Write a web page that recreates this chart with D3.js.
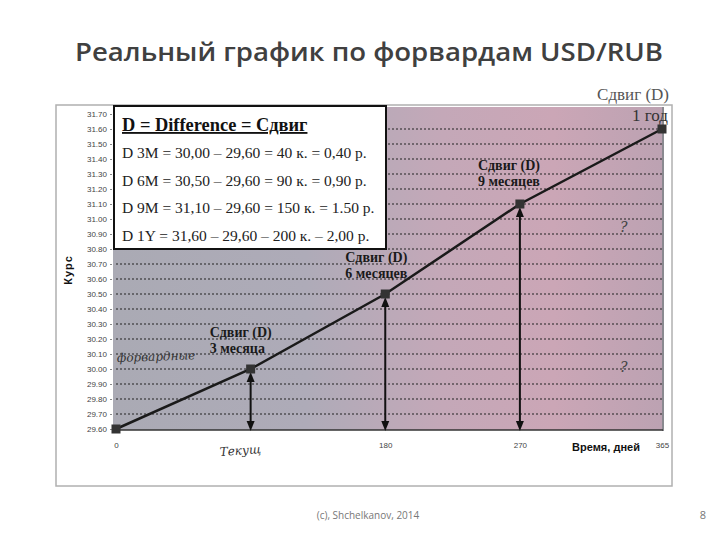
<!DOCTYPE html>
<html><head><meta charset="utf-8">
<script src="https://cdn.jsdelivr.net/npm/d3@7"></script>
<style>body{margin:0;background:#fff}svg{display:block}</style>
</head><body>
<script>
// ---- data ----
const days = [0, 90, 180, 270, 365];
const rates = [29.60, 30.00, 30.50, 31.10, 31.60];
const yTickValues = [29.6,29.7,29.8,29.9,30.0,30.1,30.2,30.3,30.4,30.5,30.6,30.7,30.8,30.9,31.0,31.1,31.2,31.3,31.4,31.5,31.6,31.7];
const xTickValues = [0, 180, 270, 365];
const arrowDays = [90, 180, 270];
const legendTitle = "D = Difference = Сдвиг";
const legendLines = [
  "D 3M = 30,00 – 29,60 = 40 к. = 0,40 р.",
  "D 6M = 30,50 – 29,60 = 90 к. = 0,90 р.",
  "D 9M = 31,10 – 29,60 = 150 к. = 1.50 р.",
  "D 1Y = 31,60 – 29,60 – 200 к. – 2,00 р."
];
const annoLabels = [
  {day: 90, rate: 30.00, l1: "Сдвиг (D)", l2: "3 месяца"},
  {day: 180, rate: 30.50, l1: "Сдвиг (D)", l2: "6 месяцев"},
  {day: 270, rate: 31.10, l1: "Сдвиг (D)", l2: "9 месяцев"}
];

const W = 720, H = 540;
const svg = d3.select("body").append("svg").attr("width", W).attr("height", H);

const x = d3.scaleLinear().domain([0, 365]).range([116, 662]);
const y = d3.scaleLinear().domain([29.6, 31.7]).range([429, 114]);

// title
svg.append("text").attr("x", 369).attr("y", 61).attr("text-anchor", "middle")
  .attr("font-family", "Open Sans, sans-serif").attr("font-weight", 600)
  .attr("font-size", 25).attr("fill", "#404040")
  .attr("textLength", 588).attr("lengthAdjust", "spacingAndGlyphs")
  .text("Реальный график по форвардам USD/RUB");

// picture frame
svg.append("rect").attr("x", 56).attr("y", 105).attr("width", 616).attr("height", 381)
  .attr("fill", "#fff").attr("stroke", "#b0b0b0").attr("stroke-width", 1.5);

// gradient background
const defs = svg.append("defs");
const grad = defs.append("linearGradient").attr("id", "bg").attr("x1", "0").attr("x2", "1").attr("y1", "0").attr("y2", "0");
[[0, "#aaaab4"], [0.35, "#aeabb8"], [0.6, "#c4a8b8"], [0.8, "#cba6b6"], [1, "#bca2b2"]]
  .forEach(([o, c]) => grad.append("stop").attr("offset", o).attr("stop-color", c));
svg.append("rect").attr("x", 113).attr("y", 107).attr("width", 550).attr("height", 323)
  .attr("fill", "url(#bg)");
svg.append("line").attr("x1", 663).attr("x2", 663).attr("y1", 107).attr("y2", 431)
  .attr("stroke", "#8a8a90").attr("stroke-width", 2);

// grid lines (29.70 .. 31.60)
svg.append("g").selectAll("line").data(yTickValues.slice(1, -1)).join("line")
  .attr("x1", 116).attr("x2", 662)
  .attr("y1", d => y(d)).attr("y2", d => y(d))
  .attr("stroke", "#222").attr("stroke-width", 1).attr("stroke-dasharray", "2,2");

// y axis
const yAxis = svg.append("g").attr("transform", "translate(112,0)")
  .call(d3.axisLeft(y).tickValues(yTickValues).tickFormat(d3.format(".2f")).tickSize(2));
yAxis.select(".domain").remove();
yAxis.selectAll("line").attr("stroke", "#888");
yAxis.selectAll("text").attr("font-family", "Liberation Sans, Arial, sans-serif")
  .attr("font-size", 8).attr("fill", "#444");

// x axis
svg.append("line").attr("x1", 113).attr("x2", 663).attr("y1", 430).attr("y2", 430)
  .attr("stroke", "#333").attr("stroke-width", 1.5);
const xAxis = svg.append("g").attr("transform", "translate(0,430)")
  .call(d3.axisBottom(x).tickValues(xTickValues).tickFormat(d3.format("d")).tickSize(0).tickPadding(12));
xAxis.select(".domain").remove();
xAxis.selectAll("text").attr("font-family", "Liberation Sans, Arial, sans-serif")
  .attr("font-size", 8).attr("fill", "#444");

svg.append("text").attr("x", 606).attr("y", 451).attr("text-anchor", "middle")
  .attr("font-family", "Liberation Sans, Arial, sans-serif").attr("font-weight", "bold")
  .attr("font-size", 11).attr("fill", "#111").text("Время, дней");
svg.append("text").attr("transform", "translate(72,270) rotate(-90)").attr("text-anchor", "middle")
  .attr("font-family", "Liberation Sans, Arial, sans-serif").attr("font-weight", "bold")
  .attr("font-size", 11).attr("fill", "#111").attr("letter-spacing", 1).text("Курс");

// arrows
defs.append("marker").attr("id", "ah").attr("viewBox", "0 0 10 10")
  .attr("refX", 5).attr("refY", 5).attr("markerWidth", 5).attr("markerHeight", 6)
  .attr("orient", "auto-start-reverse").append("path").attr("d", "M0,1 L10,5 L0,9 z").attr("fill", "#111");
svg.append("g").selectAll("line").data(arrowDays).join("line")
  .attr("x1", d => x(d)).attr("x2", d => x(d))
  .attr("y1", d => y(rates[days.indexOf(d)]) + 8).attr("y2", y(29.6) - 3)
  .attr("stroke", "#111").attr("stroke-width", 2)
  .attr("marker-start", "url(#ah)").attr("marker-end", "url(#ah)");

// series line
svg.append("path").datum(days.map((d, i) => [d, rates[i]]))
  .attr("d", d3.line().x(d => x(d[0])).y(d => y(d[1])))
  .attr("fill", "none").attr("stroke", "#1a1a1a").attr("stroke-width", 2.5);
svg.append("g").selectAll("rect").data(days.map((d, i) => [d, rates[i]])).join("rect")
  .attr("x", d => x(d[0]) - 4.5).attr("y", d => y(d[1]) - 4.5)
  .attr("width", 9).attr("height", 9).attr("fill", "#333");

// annotations
const serif = "Liberation Serif, Times New Roman, serif";
const annoOffsets = [[-41, -32], [-40, -32], [-42, -34]];
annoLabels.forEach((a, i) => {
  const [dx, dy] = annoOffsets[i];
  const g = svg.append("g").attr("font-family", serif).attr("font-weight", "bold")
    .attr("font-size", 14).attr("fill", "#1a1a1a");
  g.append("text").attr("x", x(a.day) + dx).attr("y", y(a.rate) + dy).text(a.l1);
  g.append("text").attr("x", x(a.day) + dx).attr("y", y(a.rate) + dy + 16).text(a.l2);
});
svg.append("text").attr("x", 669).attr("y", 100).attr("text-anchor", "end")
  .attr("font-family", serif).attr("font-size", 17).attr("fill", "#555").text("Сдвиг (D)");
svg.append("text").attr("x", 668).attr("y", 121).attr("text-anchor", "end")
  .attr("font-family", serif).attr("font-size", 17).attr("fill", "#333").text("1 год");

// handwritten notes
const hand = "DejaVu Serif, serif";
svg.append("text").attr("x", 117).attr("y", 362).attr("font-family", hand).attr("font-style", "italic")
  .attr("font-size", 12).attr("fill", "#333").attr("transform", "rotate(-2,117,362)").text("форвардные");
svg.append("text").attr("x", 220).attr("y", 456).attr("font-family", hand).attr("font-style", "italic")
  .attr("font-size", 12).attr("fill", "#333").attr("transform", "rotate(-4,220,456)").text("Текущ");
svg.append("text").attr("x", 620).attr("y", 232).attr("font-family", hand).attr("font-style", "italic")
  .attr("font-size", 14).attr("fill", "#444").text("?");
svg.append("text").attr("x", 620).attr("y", 372).attr("font-family", hand).attr("font-style", "italic")
  .attr("font-size", 14).attr("fill", "#444").text("?");

// legend box
svg.append("rect").attr("x", 114).attr("y", 106).attr("width", 272).attr("height", 143)
  .attr("fill", "#fff").attr("stroke", "#111").attr("stroke-width", 2);
svg.append("text").attr("x", 122).attr("y", 131).attr("font-family", serif).attr("font-weight", "bold")
  .attr("font-size", 18.4).attr("fill", "#111").attr("text-decoration", "underline").text(legendTitle);
svg.append("g").selectAll("text").data(legendLines).join("text")
  .attr("x", 122).attr("y", (d, i) => 158 + i * 27.5)
  .attr("font-family", serif).attr("font-size", 15.5).attr("fill", "#222").text(d => d);

// footer
svg.append("text").attr("x", 368).attr("y", 519).attr("text-anchor", "middle")
  .attr("font-family", "Open Sans, sans-serif").attr("font-size", 10).attr("fill", "#777")
  .text("(c), Shchelkanov, 2014");
svg.append("text").attr("x", 706).attr("y", 519).attr("text-anchor", "end")
  .attr("font-family", "Open Sans, sans-serif").attr("font-size", 11).attr("fill", "#777").text("8");
</script>
</body></html>
